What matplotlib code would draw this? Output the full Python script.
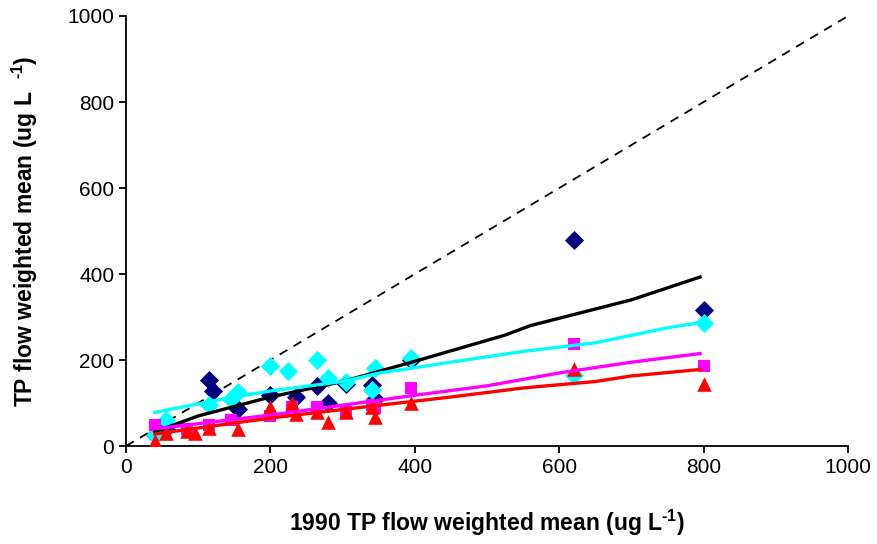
import matplotlib
matplotlib.use("Agg")
import matplotlib.pyplot as plt

plt.rcParams['font.family'] = ['Liberation Sans', 'DejaVu Sans']
plt.rcParams['mathtext.default'] = 'regular'

# Scatter data (x: 1990 TP flow weighted mean)
navy_x = [40, 55, 115, 120, 155, 200, 235, 265, 280, 305, 340, 345, 395, 620, 800]
navy_y = [25, 40, 153, 128, 85, 118, 115, 140, 100, 145, 143, 110, 200, 479, 316]

cyan_x = [40, 55, 115, 145, 155, 200, 225, 265, 280, 305, 340, 345, 395, 620, 800]
cyan_y = [25, 60, 95, 110, 125, 185, 175, 200, 158, 150, 130, 182, 205, 165, 286]

mag_x = [40, 85, 115, 145, 200, 230, 265, 305, 340, 345, 395, 620, 800]
mag_y = [48, 40, 50, 60, 70, 90, 90, 80, 95, 88, 135, 238, 186]

red_x = [40, 55, 85, 95, 115, 155, 200, 230, 235, 265, 280, 305, 340, 345, 395, 620, 800]
red_y = [12, 30, 35, 30, 42, 40, 90, 100, 75, 80, 55, 80, 90, 68, 100, 180, 144]

# Smoothed trend lines
black_lx = [40, 100, 200, 300, 400, 525, 560, 700, 795]
black_ly = [33, 70, 114, 150, 197, 258, 280, 340, 393]
cyan_lx = [40, 130, 200, 300, 352, 450, 550, 650, 750, 795]
cyan_ly = [78, 108, 128, 150, 170, 195, 220, 240, 275, 287]
mag_lx = [40, 200, 300, 400, 500, 600, 700, 795]
mag_ly = [40, 72, 95, 118, 140, 170, 195, 215]
red_lx = [40, 200, 300, 450, 550, 650, 700, 795]
red_ly = [28, 65, 85, 114, 135, 150, 163, 178]

one_x = [0, 1000]
one_y = [0, 1000]

fig = plt.figure(figsize=(8.77, 5.44), dpi=100)
ax = fig.add_axes([0.1437, 0.1801, 0.8233, 0.7905])

ax.plot(one_x, one_y, color='black', lw=1.3, ls=(0, (5, 4)), zorder=2)

ax.scatter(navy_x, navy_y, marker='D', s=95, color='#000080', zorder=3, linewidths=0)
ax.scatter(cyan_x, cyan_y, marker='D', s=95, color='#00FFFF', zorder=3, linewidths=0)
ax.scatter(mag_x, mag_y, marker='s', s=85, color='#FF00FF', zorder=3, linewidths=0)
ax.scatter(red_x, red_y, marker='^', s=110, color='#FF0000', zorder=3, linewidths=0)

ax.plot(black_lx, black_ly, color='black', lw=2.4, zorder=4)
ax.plot(cyan_lx, cyan_ly, color='#00FFFF', lw=2.4, zorder=4)
ax.plot(mag_lx, mag_ly, color='#FF00FF', lw=2.4, zorder=4)
ax.plot(red_lx, red_ly, color='#FF0000', lw=2.4, zorder=4)

ax.set_xlim(0, 1000)
ax.set_ylim(0, 1000)
ax.set_xticks([0, 200, 400, 600, 800, 1000])
ax.set_yticks([0, 200, 400, 600, 800, 1000])
for s in ['top', 'right']:
    ax.spines[s].set_visible(False)
for s in ['left', 'bottom']:
    ax.spines[s].set_linewidth(1.3)
ax.tick_params(axis='both', labelsize=15, width=1.3, length=5, direction='out')

ax.set_xlabel('1990 TP flow weighted mean (ug L$^{\u20101}$)', fontsize=16.5,
              fontweight='bold', labelpad=22)
ax.set_ylabel('TP flow weighted mean (ug L  $^{\u20101}$)', fontsize=16.5,
              fontweight='bold', labelpad=20)

fig.savefig('out.png', dpi=100)
